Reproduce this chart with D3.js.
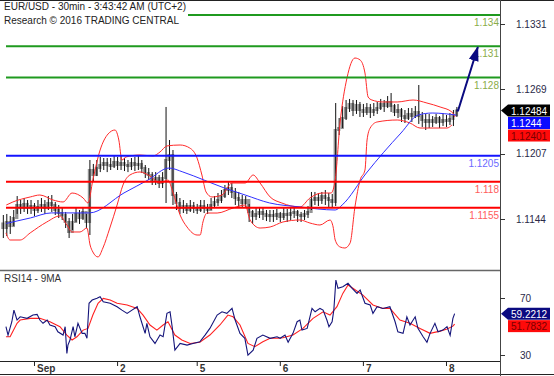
<!DOCTYPE html>
<html>
<head>
<meta charset="utf-8">
<script src="https://cdnjs.cloudflare.com/ajax/libs/d3/7.8.5/d3.min.js"></script>
<style>
  body { margin: 0; background: #fff; }
  svg { display: block; font-family: "Liberation Sans", Arial, sans-serif; }
</style>
</head>
<body>
<script>
// price bars, one per hour starting Aug 31 15:00
var firstOpen = 1.1140;
var closes = [1.11356,1.11414,1.11375,1.11452,1.11577,1.11548,1.11587,1.11548,1.11567,1.11529,
  1.11558,1.11577,1.11548,1.11596,1.11577,1.11529,1.11500,1.11481,1.11414,1.11318,
  1.11414,1.11491,1.11452,1.11510,1.11414,1.11913,1.11865,1.11932,1.11961,1.11980,
  1.11961,1.11951,1.11990,1.11961,1.11980,1.11961,1.11951,1.11980,1.11961,1.11971,
  1.11932,1.11884,1.11865,1.11817,1.11836,1.11788,1.11836,1.12009,1.12057,1.11673,
  1.11596,1.11548,1.11567,1.11529,1.11567,1.11548,1.11529,1.11567,1.11548,1.11529,
  1.11577,1.11606,1.11625,1.11663,1.11721,1.11740,1.11702,1.11644,1.11625,1.11596,
  1.11625,1.11510,1.11471,1.11491,1.11510,1.11491,1.11471,1.11481,1.11471,1.11491,
  1.11462,1.11491,1.11481,1.11500,1.11510,1.11481,1.11471,1.11491,1.11510,1.11625,
  1.11644,1.11625,1.11663,1.11644,1.11625,1.11606,1.12297,1.12316,1.12412,1.12508,
  1.12547,1.12489,1.12537,1.12489,1.12470,1.12508,1.12470,1.12489,1.12508,1.12547,
  1.12527,1.12566,1.12527,1.12470,1.12489,1.12431,1.12412,1.12451,1.12431,1.12470,
  1.12431,1.12393,1.12374,1.12393,1.12374,1.12412,1.12374,1.12393,1.12383,1.12403,
  1.12441,1.12484];
var highs = [1.11481,1.11491,1.11471,1.11529,1.11663,1.11625,1.11644,1.11625,1.11625,1.11596,
  1.11625,1.11644,1.11625,1.11663,1.11673,1.11606,1.11577,1.11548,1.11510,1.11452,
  1.11491,1.11548,1.11529,1.11558,1.11491,1.12009,1.11971,1.12009,1.12038,1.12028,
  1.12028,1.12028,1.12047,1.12038,1.12047,1.12028,1.12009,1.12028,1.12038,1.12047,
  1.12009,1.11961,1.11932,1.11893,1.11893,1.11865,1.11893,1.12518,1.12201,1.12105,
  1.11702,1.11644,1.11625,1.11596,1.11625,1.11606,1.11587,1.11625,1.11625,1.11587,
  1.11644,1.11663,1.11692,1.11721,1.11769,1.11798,1.11788,1.11740,1.11702,1.11673,
  1.11663,1.11587,1.11529,1.11548,1.11558,1.11548,1.11529,1.11529,1.11529,1.11539,
  1.11510,1.11548,1.11539,1.11548,1.11548,1.11529,1.11510,1.11529,1.11567,1.11702,
  1.11702,1.11692,1.11702,1.11721,1.11692,1.11683,1.12556,1.12412,1.12527,1.12585,
  1.12595,1.12585,1.12585,1.12566,1.12547,1.12556,1.12547,1.12556,1.12566,1.12595,
  1.12585,1.12623,1.12652,1.12547,1.12547,1.12508,1.12489,1.12508,1.12508,1.12527,
  1.12729,1.12470,1.12451,1.12451,1.12431,1.12451,1.12431,1.12451,1.12441,1.12460,
  1.12489,1.12518];
var lows = [1.11260,1.11279,1.11299,1.11375,1.11491,1.11491,1.11510,1.11491,1.11491,1.11471,
  1.11500,1.11510,1.11491,1.11529,1.11510,1.11481,1.11452,1.11433,1.11356,1.11260,
  1.11337,1.11414,1.11395,1.11433,1.11356,1.11289,1.11798,1.11855,1.11893,1.11913,
  1.11893,1.11913,1.11932,1.11913,1.11913,1.11903,1.11893,1.11913,1.11903,1.11913,
  1.11884,1.11836,1.11817,1.11769,1.11769,1.11740,1.11740,1.11596,1.11913,1.11577,
  1.11529,1.11491,1.11500,1.11491,1.11510,1.11500,1.11491,1.11510,1.11500,1.11491,
  1.11529,1.11548,1.11567,1.11596,1.11644,1.11673,1.11644,1.11577,1.11558,1.11548,
  1.11558,1.11414,1.11395,1.11433,1.11452,1.11433,1.11423,1.11414,1.11414,1.11433,
  1.11414,1.11433,1.11414,1.11433,1.11452,1.11414,1.11414,1.11433,1.11452,1.11529,
  1.11577,1.11567,1.11587,1.11577,1.11558,1.11548,1.11567,1.12249,1.12316,1.12393,
  1.12470,1.12431,1.12451,1.12422,1.12422,1.12441,1.12412,1.12431,1.12451,1.12489,
  1.12470,1.12508,1.12470,1.12431,1.12412,1.12374,1.12364,1.12393,1.12374,1.12412,
  1.12355,1.12326,1.12297,1.12316,1.12326,1.12355,1.12316,1.12335,1.12326,1.12345,
  1.12335,1.12422];

// moving average and bands, [hour, price]
var maLine = [[1,1.1140],[8,1.11453],[14,1.11501],[25,1.11501],[35,1.11693],[42,1.11818],
  [48,1.11932],[52,1.11894],[58,1.11818],[64,1.11740],[70,1.11673],[77,1.11597],[86,1.11558],
  [96,1.11529],[98,1.11577],[105,1.11884],[115,1.12268],[120,1.12441],[124,1.12460],[131,1.12440]];
var bandUpper = [[1,1.11577],[2.9,1.11606],[7.9,1.11654],[10.7,1.11673],[14.5,1.11625],[17.4,1.11606],
  [20,1.11692],[23.2,1.11644],[24.6,1.11596],[26,1.11817],[28.1,1.12105],[30.4,1.12259],[32.4,1.12297],
  [33.5,1.12201],[34.4,1.12009],[35.6,1.12038],[39.6,1.12057],[43.4,1.12048],[45.4,1.12086],
  [47.4,1.12144],[51.2,1.12153],[54,1.12124],[56.1,1.12028],[57.5,1.11865],[58.7,1.11702],
  [60.4,1.11654],[63.3,1.11673],[66.2,1.11788],[70,1.11788],[72.3,1.11865],[74.3,1.11788],
  [77.2,1.11654],[80.6,1.11596],[85.8,1.11558],[88.7,1.11644],[92.2,1.11692],[94.8,1.11692],
  [96,1.11817],[97.4,1.12364],[99.4,1.12796],[101.7,1.12988],[103.2,1.12969],[104.6,1.12844],
  [105.5,1.12614],[106.6,1.12585],[109.8,1.12566],[113.9,1.12566],[118.5,1.12585],[122.5,1.12556],
  [126.3,1.12518],[129.7,1.12470],[130.6,1.12422]];
var bandLower = [[0.9,1.11309],[2.1,1.11241],[5,1.11241],[7.9,1.11309],[12.7,1.11414],[16.5,1.11472],
  [18.5,1.11385],[20,1.11318],[22.3,1.11318],[24.3,1.11356],[25.2,1.11193],[26,1.11126],[27.5,1.11078],
  [28.9,1.11164],[30.9,1.11356],[33,1.11577],[34.7,1.11769],[36.7,1.11865],[39.6,1.11894],
  [42.5,1.11855],[45.4,1.11788],[47.7,1.11817],[49.1,1.11702],[51.2,1.11481],[53.2,1.11366],
  [56.1,1.11289],[57,1.11289],[57.8,1.11414],[59,1.11500],[61.9,1.11500],[66.5,1.11548],[70,1.11577],
  [71.4,1.11433],[74.3,1.11356],[77.2,1.11366],[80.9,1.11414],[85.8,1.11433],[88.7,1.11404],
  [91.6,1.11385],[94.5,1.11433],[95.4,1.11366],[96,1.11241],[97.4,1.11174],[98.8,1.11164],
  [100.3,1.11212],[101.7,1.11558],[103.2,1.11817],[104.6,1.11913],[105.2,1.12201],[106.1,1.12316],
  [108.1,1.12374],[113.9,1.12393],[117.6,1.12364],[120.5,1.12316],[128.3,1.12316],[129.7,1.12345]];

// RSI14 and its 9MA, [hour, value]
var rsi = [[0.9,50],[1.5,44],[2.6,53.5],[3.2,61.7],[4.1,54.7],[5,57],[7,55.9],[8.7,58.2],[9.9,58.7],
  [10.7,54.7],[11.6,52.4],[12.8,54.7],[13.6,51.2],[15.1,50],[15.9,46.4],[17.4,44.1],[18,50],[18.5,31.2],
  [18.8,37],[19.4,40.6],[20.3,50],[20.8,42.9],[21.7,52.4],[22.9,45.3],[23.7,45.3],[24.3,41.8],
  [24.9,66.5],[25.8,68.8],[27.2,70],[28.1,71.1],[29,67.6],[31,66.5],[33,64.1],[34.4,61.7],[35.9,59.4],
  [37.3,61.7],[38.8,64.1],[39.6,57],[41.1,45.3],[41.6,52.4],[42.5,42.9],[43.95,38.2],[45.4,44.1],
  [46.3,42.9],[47.4,59.4],[48.3,60.5],[48.9,50],[49.7,33.5],[51.2,38.2],[53.2,37],[54.9,38.2],
  [56.9,39.4],[58.4,44.1],[59.8,48.8],[61.9,58.2],[63.3,60.5],[64.7,59.4],[66.2,62.9],[67.1,54.7],
  [68.5,45.3],[69.9,41.8],[70.8,30],[72.3,33.5],[73.4,41.8],[75.1,44.1],[77.2,41.8],[79.2,42.9],
  [80.1,41.8],[81.5,44.1],[82.4,39],[83.8,45.3],[85,53.5],[85.8,54.7],[86.4,47.6],[87.9,48.8],
  [89.3,62.9],[90.2,60.5],[91.6,62.9],[92.5,61.7],[93.6,54.7],[94.2,50],[95.1,53.5],[95.6,61.7],
  [96.2,82.9],[96.8,77.1],[98.2,78.2],[99.7,80.6],[100.9,77.1],[102.3,73.5],[103.2,75.9],[104.6,66.5],
  [106.1,65.3],[106.9,59.4],[108.1,64.1],[109.8,62.9],[111.8,64.1],[113.3,53.5],[114.1,46.4],
  [115.6,45.3],[116.7,57],[117.6,51.2],[119.1,57],[119.9,48.8],[121.4,42.9],[122.5,39],[123.4,45.3],
  [124.8,52.4],[125.7,46.4],[127.1,47.6],[128.3,50],[129.2,43.9],[130,55.9],[130.5,59.2212]];
var rsiMa = [[0.9,42.9],[2.1,42.9],[4.1,52.4],[5,54.7],[7.9,55.9],[10.7,55.9],[13.6,53.5],[16.5,50],
  [18.5,44.1],[20,40.6],[21.4,42.9],[23.2,47.6],[24.6,48.8],[26,58.2],[27.5,66.5],[29,70],[31,68.8],
  [33,66.5],[35.9,65.3],[38.8,62.9],[40.5,58.2],[42.5,51.2],[44.5,47.6],[46.3,51.2],[47.7,53.5],
  [49.7,44.1],[51.7,40.6],[54.1,38.2],[56.9,39],[59.8,44.1],[62.7,51.2],[65,58.2],[66.5,57],[68.5,51.2],
  [70.8,38.2],[72.8,35.9],[75.1,39.4],[77.2,41.8],[79.5,41.8],[80.9,42.2],[83.8,44.1],[86.7,48.8],
  [89.6,55.9],[92.5,60.5],[94.5,58.2],[96.5,64.1],[98.2,73.5],[99.7,79.4],[101.1,77.1],[104,72.3],
  [106.9,65.3],[109.8,62.9],[111.8,62.9],[114.7,54.7],[117.6,52.4],[120.5,48.8],[123.4,45.3],
  [126.3,46.9],[128.3,48.3],[130,50.4],[130.5,51.7832]];

// key levels
var resistances = [1.134, 1.131, 1.128];
var pivot = [1.1205];
var supports = [1.118, 1.1155];
var levelLabels = {"1.134":"1.134","1.131":"1.131","1.128":"1.128","1.1205":"1.1205","1.118":"1.118","1.1155":"1.1155"};
var arrowPath = [[131, 1.12484], [131.5, 1.12484], [137.2, 1.13094]];

// axis ticks
var priceTicks = [1.1331, 1.1269, 1.1207, 1.1144];
var rsiTicks = [70, 30];
var dayTicks = [9, 33, 56, 80, 104, 128];
var dayLabels = ["Sep", "2", "5", "6", "7", "8"];

// last values
var lastPrice = 1.12484, lastMa = 1.1244, lastBand = 1.12401;
var lastRsi = 59.2212, lastRsiMa = 51.7832;

var W = 554, H = 376, plotRight = 500;
var mainBottom = 270, rsiBottom = 361;

var svg = d3.select('body').append('svg').attr('width', W).attr('height', H);

var x = d3.scaleLinear().domain([-0.82, 143.6]).range([0, plotRight]);
var y = d3.scaleLinear().domain([1.10953, 1.13545]).range([mainBottom, 0]);
var yR = d3.scaleLinear().domain([25.8, 90]).range([rsiBottom, mainBottom]);

var defs = svg.append('defs');
defs.append('clipPath').attr('id', 'clipMain').append('rect')
    .attr('x', 0).attr('y', 0).attr('width', plotRight).attr('height', mainBottom);
defs.append('clipPath').attr('id', 'clipRsi').append('rect')
    .attr('x', 0).attr('y', mainBottom).attr('width', plotRight).attr('height', rsiBottom - mainBottom);
defs.append('marker').attr('id', 'head')
    .attr('markerUnits', 'userSpaceOnUse')
    .attr('markerWidth', 15).attr('markerHeight', 10)
    .attr('refX', 14).attr('refY', 5).attr('orient', 'auto')
    .append('path').attr('d', 'M0,0 L15,5 L0,10 z').attr('fill', '#0a0a80');

var main = svg.append('g').attr('clip-path', 'url(#clipMain)');

// bars
var bars = closes.map(function(c, i) {
    return {i: i, o: i ? closes[i - 1] : firstOpen, h: highs[i], l: lows[i], c: c};
});
main.selectAll('.body').data(bars).enter().append('rect')
    .attr('x', function(d) { return x(d.i) - 1.6; })
    .attr('width', 3.3)
    .attr('y', function(d) { return y(Math.max(d.o, d.c)) - 1; })
    .attr('height', function(d) { return Math.max(2, Math.abs(y(d.o) - y(d.c)) + 2); })
    .attr('fill', '#959595');
main.selectAll('.hl').data(bars).enter().append('line')
    .attr('x1', function(d) { return x(d.i) + 0.5; })
    .attr('x2', function(d) { return x(d.i) + 0.5; })
    .attr('y1', function(d) { return y(d.h); })
    .attr('y2', function(d) { return y(d.l); })
    .attr('stroke', '#111').attr('stroke-width', 1);

// bands and average
var pline = d3.line().curve(d3.curveMonotoneX)
    .x(function(d) { return x(d[0]); })
    .y(function(d) { return y(d[1]); });
[bandUpper, bandLower].forEach(function(b) {
    main.append('path').datum(b).attr('d', pline)
        .attr('fill', 'none').attr('stroke', '#ff2a2a').attr('stroke-width', 1);
});
main.append('path').datum(maLine).attr('d', pline)
    .attr('fill', 'none').attr('stroke', '#3030ff').attr('stroke-width', 1);

// key levels
var levels = resistances.map(function(v) { return {v: v, line: '#1f9a1f', text: '#8aac48'}; })
    .concat(pivot.map(function(v) { return {v: v, line: '#1414ff', text: '#6a6aff'}; }))
    .concat(supports.map(function(v) { return {v: v, line: '#ff0000', text: '#ff5c5c'}; }));
main.selectAll('.lvl').data(levels).enter().append('line')
    .attr('x1', 6).attr('x2', plotRight)
    .attr('y1', function(d) { return y(d.v); })
    .attr('y2', function(d) { return y(d.v); })
    .attr('stroke', function(d) { return d.line; }).attr('stroke-width', 2);
main.selectAll('.lvlt').data(levels).enter().append('text')
    .attr('x', plotRight - 1)
    .attr('y', function(d) { return y(d.v) + 11; })
    .attr('text-anchor', 'end')
    .style('font-size', '10px')
    .attr('fill', function(d) { return d.text; })
    .text(function(d) { return levelLabels[String(d.v)]; });

// target arrow
main.append('path').datum(arrowPath)
    .attr('d', d3.line().x(function(d) { return x(d[0]); }).y(function(d) { return y(d[1]); }))
    .attr('fill', 'none').attr('stroke', '#0a0a80').attr('stroke-width', 2)
    .attr('marker-end', 'url(#head)');

// RSI panel
var rsiG = svg.append('g').attr('clip-path', 'url(#clipRsi)');
var rline = d3.line().x(function(d) { return x(d[0]); }).y(function(d) { return yR(d[1]); });
rsiG.append('path').datum(rsiMa).attr('d', rline)
    .attr('fill', 'none').attr('stroke', '#ff2020').attr('stroke-width', 1.1);
rsiG.append('path').datum(rsi).attr('d', rline)
    .attr('fill', 'none').attr('stroke', '#14147a').attr('stroke-width', 1.1);

// frame
svg.append('line').attr('x1', 0).attr('x2', W).attr('y1', 0.5).attr('y2', 0.5).attr('stroke', '#222');
svg.append('line').attr('x1', 0).attr('x2', W).attr('y1', 374.5).attr('y2', 374.5).attr('stroke', '#222');
svg.append('line').attr('x1', 0).attr('x2', plotRight).attr('y1', mainBottom + 0.5).attr('y2', mainBottom + 0.5)
    .attr('stroke', '#666').attr('stroke-width', 1.5);
svg.append('line').attr('x1', plotRight + 0.5).attr('x2', plotRight + 0.5).attr('y1', 0).attr('y2', H)
    .attr('stroke', '#444');

// bottom time axis
var xAxis = svg.append('g').attr('transform', 'translate(0,' + rsiBottom + ')');
xAxis.append('line').attr('x1', 0).attr('x2', plotRight).attr('y1', 0.5).attr('y2', 0.5).attr('stroke', '#222');
xAxis.selectAll('.tk').data(dayTicks).enter().append('line')
    .attr('x1', function(d) { return x(d) + 0.5; }).attr('x2', function(d) { return x(d) + 0.5; })
    .attr('y1', 0).attr('y2', 5).attr('stroke', '#222');
xAxis.selectAll('.tl').data(dayTicks).enter().append('text')
    .attr('x', function(d) { return x(d) + 3; }).attr('y', 10.5)
    .style('font-size', '10px').style('font-weight', 'bold').attr('fill', '#333')
    .text(function(d, i) { return dayLabels[i]; });

// right price axis
svg.selectAll('.pt').data(priceTicks).enter().append('line')
    .attr('x1', plotRight).attr('x2', plotRight + 5)
    .attr('y1', function(d) { return Math.round(y(d)) + 0.5; })
    .attr('y2', function(d) { return Math.round(y(d)) + 0.5; })
    .attr('stroke', '#333');
svg.selectAll('.ptl').data(priceTicks).enter().append('text')
    .attr('x', 516).attr('y', function(d) { return y(d) + 3.5; })
    .style('font-size', '10px').attr('fill', '#2a2a48')
    .text(function(d) { return d3.format('.4f')(d); });
svg.selectAll('.rt').data(rsiTicks).enter().append('line')
    .attr('x1', plotRight).attr('x2', plotRight + 5)
    .attr('y1', function(d) { return Math.round(yR(d)) + 0.5; })
    .attr('y2', function(d) { return Math.round(yR(d)) + 0.5; })
    .attr('stroke', '#333');
svg.selectAll('.rtl').data(rsiTicks).enter().append('text')
    .attr('x', 520).attr('y', function(d) { return yR(d) + 3.5; })
    .style('font-size', '10px').attr('fill', '#2a2a48')
    .text(function(d) { return d; });

// last value boxes, stacked so they do not overlap
function valueBoxes(items, scale) {
    var prev = -Infinity;
    items.forEach(function(b) {
        var cy = Math.max(scale(b.v), prev + 12.5);
        prev = cy;
        var g = svg.append('g').attr('transform', 'translate(0,' + cy + ')');
        if (b.pointer) {
            g.append('path').attr('d', 'M501,0 L508,-6 L550,-6 L550,6 L508,6 z').attr('fill', b.fill);
        } else {
            g.append('rect').attr('x', 508).attr('y', -6).attr('width', 42).attr('height', 12).attr('fill', b.fill);
        }
        g.append('text').attr('x', 511).attr('y', 4)
            .style('font-size', '10px').attr('fill', b.color).text(b.label);
    });
}
valueBoxes([
    {v: lastPrice, label: d3.format('.5f')(lastPrice), fill: '#000', color: '#fff', pointer: true},
    {v: lastMa, label: d3.format('.4f')(lastMa), fill: '#0a0aff', color: '#fff'},
    {v: lastBand, label: d3.format('.5f')(lastBand), fill: '#ff0a0a', color: '#7a0000'}
], y);
valueBoxes([
    {v: lastRsi, label: d3.format('.4f')(lastRsi), fill: '#0a0a80', color: '#fff', pointer: true},
    {v: lastRsiMa, label: d3.format('.4f')(lastRsiMa), fill: '#ff0a0a', color: '#7a0000'}
], yR);

// titles
var title = svg.append('g');
var tbg = title.append('rect').attr('x', 0).attr('y', 1).attr('fill', '#fff');
var t1 = title.append('text').attr('x', 4).attr('y', 10)
    .style('font-size', '10px').attr('fill', '#222').text('EUR/USD - 30min - 3:43:42 AM (UTC+2)');
title.append('text').attr('x', 4).attr('y', 23.5)
    .style('font-size', '10px').attr('fill', '#222').text('Research \u00a9 2016 TRADING CENTRAL');
tbg.attr('width', t1.node().getComputedTextLength() + 6).attr('height', 26);

svg.append('text').attr('x', 4).attr('y', mainBottom + 12)
    .style('font-size', '10px').attr('fill', '#333').text('RSI14 - 9MA');
</script>
</body>
</html>
